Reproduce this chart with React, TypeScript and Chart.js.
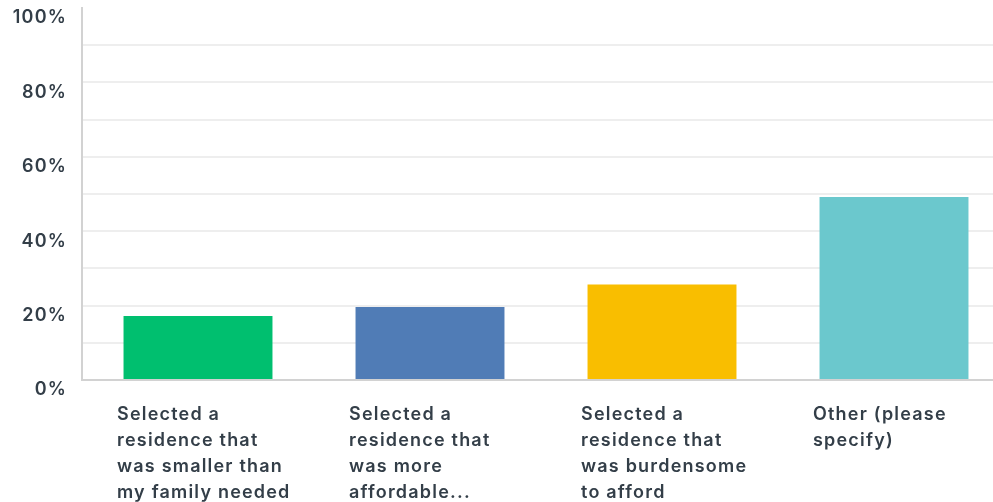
import React, { useEffect, useRef } from "react";
import { Chart, registerables } from "chart.js";

Chart.register(...registerables);

const categories: string[][] = [
  ["Selected a", "residence that", "was smaller than", "my family needed"],
  ["Selected a", "residence that", "was more", "affordable..."],
  ["Selected a", "residence that", "was burdensome", "to afford"],
  ["Other (please", "specify)"],
];
const values: number[] = [17.2, 19.6, 25.7, 49.2];
const barColors: string[] = ["#00bf6f", "#507cb6", "#f9be00", "#6bc8cd"];
const yTickLabels: number[] = [0, 20, 40, 60, 80, 100];

const FONT = "Inter, 'Open Sans', sans-serif";
const TEXT = "#333e48";

const spacingPlugin = {
  id: "letterSpacing",
  beforeDraw(chart: any) {
    chart.ctx.letterSpacing = "1.2px";
  },
  afterDraw(chart: any) {
    chart.ctx.letterSpacing = "0px";
  },
};

export default function App() {
  const ref = useRef<HTMLCanvasElement | null>(null);
  useEffect(() => {
    if (!ref.current) return;
    const chart = new Chart(ref.current, {
      type: "bar",
      data: {
        labels: categories,
        datasets: [
          {
            data: values,
            backgroundColor: barColors,
            borderWidth: 0,
            categoryPercentage: 1,
            barPercentage: 0.642,
          },
        ],
      },
      plugins: [spacingPlugin],
      options: {
        animation: false,
        responsive: true,
        maintainAspectRatio: false,
        layout: { padding: { top: 8, right: 2, left: 0, bottom: 0 } },
        plugins: { legend: { display: false }, tooltip: { enabled: false } },
        scales: {
          x: {
            grid: { display: false, drawTicks: false },
            border: { display: true, color: "#d2d2d2", width: 2 },
            ticks: {
              color: TEXT,
              font: { family: FONT, size: 18, weight: 600, lineHeight: 26 / 18 },
              align: "start",
              labelOffset: -81,
              padding: 22,
              maxRotation: 0,
              minRotation: 0,
              autoSkip: false,
            },
            afterFit: (scale: any) => {
              scale.height = 122;
              scale.paddingLeft = 0;
              scale.paddingRight = 0;
            },
          },
          y: {
            min: 0,
            max: 100,
            grid: {
              drawTicks: false,
              lineWidth: 2,
              color: (ctx: any) =>
                ctx.tick && (ctx.tick.value === 100 || ctx.tick.value === 0)
                  ? "rgba(0,0,0,0)"
                  : "#eeeeee",
            },
            border: { display: true, color: "#d2d2d2", width: 2 },
            ticks: {
              stepSize: 10,
              color: TEXT,
              font: { family: FONT, size: 18, weight: 600 },
              padding: 15,
              labelOffset: 10,
              callback: (v: any) => (yTickLabels.includes(Number(v)) ? v + "%" : ""),
            },
            afterFit: (scale: any) => {
              scale.width = 82;
              scale.paddingTop = 0;
              scale.paddingBottom = 0;
            },
          },
        },
      },
    });
    return () => chart.destroy();
  }, []);

  return (
    <div
      style={{
        position: "fixed",
        left: 0,
        top: 0,
        width: 993,
        height: 502,
        overflow: "hidden",
        background: "#ffffff",
      }}
    >
      <div style={{ position: "relative", width: 1012, height: 502 }}>
        <canvas ref={ref} />
      </div>
    </div>
  );
}
